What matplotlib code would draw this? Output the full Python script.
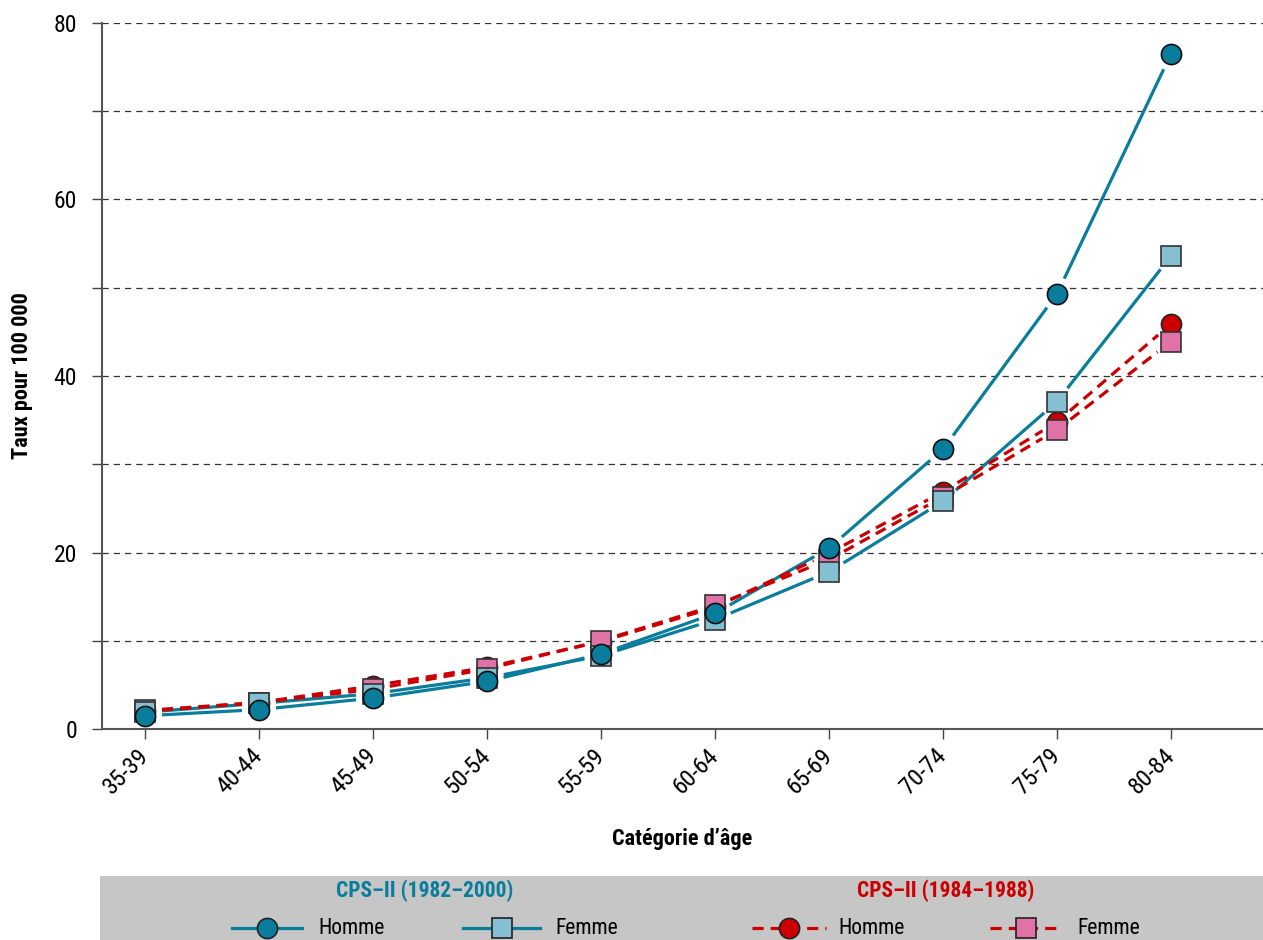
import numpy as np
import matplotlib
matplotlib.use('Agg')
import matplotlib.pyplot as plt
from matplotlib.patches import Rectangle

# Data
ages = ['35-39', '40-44', '45-49', '50-54', '55-59',
        '60-64', '65-69', '70-74', '75-79', '80-84']
homme_8200 = [1.5, 2.2, 3.5, 5.4, 8.5, 13.1, 20.5, 31.7, 49.3, 76.5]
femme_8200 = [1.9, 2.9, 4.0, 5.8, 8.3, 12.4, 17.8, 25.8, 37.1, 53.6]
homme_8488 = [2.0, 3.0, 4.9, 7.0, 9.9, 13.8, 19.9, 26.9, 34.8, 45.9]
femme_8488 = [2.1, 3.0, 4.5, 6.8, 10.0, 14.0, 19.2, 26.3, 33.9, 43.9]

BLUE = '#0a7d9c'
BLUE_LIGHT = '#84bfd2'
RED = '#cc0000'
PINK = '#e072a8'
NARROW = ['Roboto Condensed', 'DejaVu Sans']

fig = plt.figure(figsize=(12.63, 9.4), dpi=100)
ax = fig.add_axes([102 / 1263, 211 / 940, 1 - 102 / 1263, 706 / 940])

x = np.arange(len(ages))
ax.set_xlim(-43 / 114, 9 + 92 / 114)
ax.set_ylim(0, 80)

ax.set_yticks(np.arange(0, 81, 10))
ax.set_yticklabels(['0', '', '20', '', '40', '', '60', '', '80'], family=NARROW, fontsize=17)
ax.set_xticks(x)
ax.set_xticklabels(ages, rotation=45, ha='right', va='center', rotation_mode='anchor',
                   family=NARROW, fontsize=17.5)
ax.tick_params(axis='both', direction='out', length=7, color='#444444', width=1)
ax.tick_params(axis='y', pad=11)
ax.tick_params(axis='x', pad=10)

for s in ['top', 'right']:
    ax.spines[s].set_visible(False)
ax.spines['left'].set_color('#555555')
ax.spines['bottom'].set_color('#555555')
ax.spines['left'].set_linewidth(1.5)
ax.spines['bottom'].set_linewidth(1.5)

for v in range(10, 81, 10):
    ax.axhline(v, color='#333333', lw=0.9, ls=(0, (5, 4)), zorder=1)

ax.set_ylabel('Taux pour 100 000', family=NARROW, fontweight='bold', fontsize=16, labelpad=15)
ax.set_xlabel('Catégorie d’âge', family=NARROW, fontweight='bold', fontsize=16, labelpad=21)


def gapped_line(vals, color, ls, z, gap=17):
    # segments between points, cut short near each marker
    pts = ax.transData.transform(np.column_stack([x, vals]))
    for p0, p1 in zip(pts[:-1], pts[1:]):
        d = p1 - p0
        u = d / np.hypot(*d)
        a = ax.transData.inverted().transform(p0 + u * gap)
        b = ax.transData.inverted().transform(p1 - u * gap)
        ax.plot([a[0], b[0]], [a[1], b[1]], color=color, lw=2.3, ls=ls,
                solid_capstyle='butt', dash_capstyle='butt', zorder=z)


dash = (0, (3.5, 2.2))
gapped_line(homme_8200, BLUE, '-', 2)
gapped_line(femme_8200, BLUE, '-', 2)
gapped_line(homme_8488, RED, dash, 2)
gapped_line(femme_8488, RED, dash, 2)

ms = 14.5
ax.plot(x, homme_8488, 'o', ms=ms, mfc=RED, mec='#222222', mew=1.2, zorder=3)
ax.plot(x, femme_8488, 's', ms=ms, mfc=PINK, mec='#333333', mew=1.2, zorder=4)
ax.plot(x, femme_8200, 's', ms=ms, mfc=BLUE_LIGHT, mec='#333333', mew=1.2, zorder=5)
ax.plot(x, homme_8200, 'o', ms=ms, mfc=BLUE, mec='#111111', mew=1.2, zorder=6)

# Legend band
lg = fig.add_axes([100 / 1263, 0, 1 - 100 / 1263, 64 / 940])
lg.set_xlim(100, 1263)
lg.set_ylim(940, 876)
lg.axis('off')
lg.add_patch(Rectangle((100, 876), 1163, 64, color='#c6c6c6', zorder=0))
lg.text(425, 891, 'CPS–II (1982–2000)', color=BLUE, family=NARROW, fontweight='bold',
        fontsize=15.5, ha='center', va='center')
lg.text(946, 891, 'CPS–II (1984–1988)', color=RED, family=NARROW, fontweight='bold',
        fontsize=15.5, ha='center', va='center')

entries = [(232, 302, BLUE, '-', 'o', BLUE, 'Homme', 318),
           (463, 540, BLUE, '-', 's', BLUE_LIGHT, 'Femme', 555),
           (752, 826, RED, dash, 'o', RED, 'Homme', 838),
           (990, 1062, RED, dash, 's', PINK, 'Femme', 1077)]
for x0, x1, lc, ls, mk, mc, lab, tx in entries:
    lg.plot([x0, x1], [928, 928], color=lc, lw=2.3, ls=ls, zorder=1)
    lg.plot([(x0 + x1) / 2], [928], mk, ms=ms, mfc=mc, mec='#222222', mew=1.2,
            zorder=2, clip_on=False)
    lg.text(tx, 928, lab, family=NARROW, fontsize=15.5, ha='left', va='center')

fig.savefig('out.png', dpi=100)
